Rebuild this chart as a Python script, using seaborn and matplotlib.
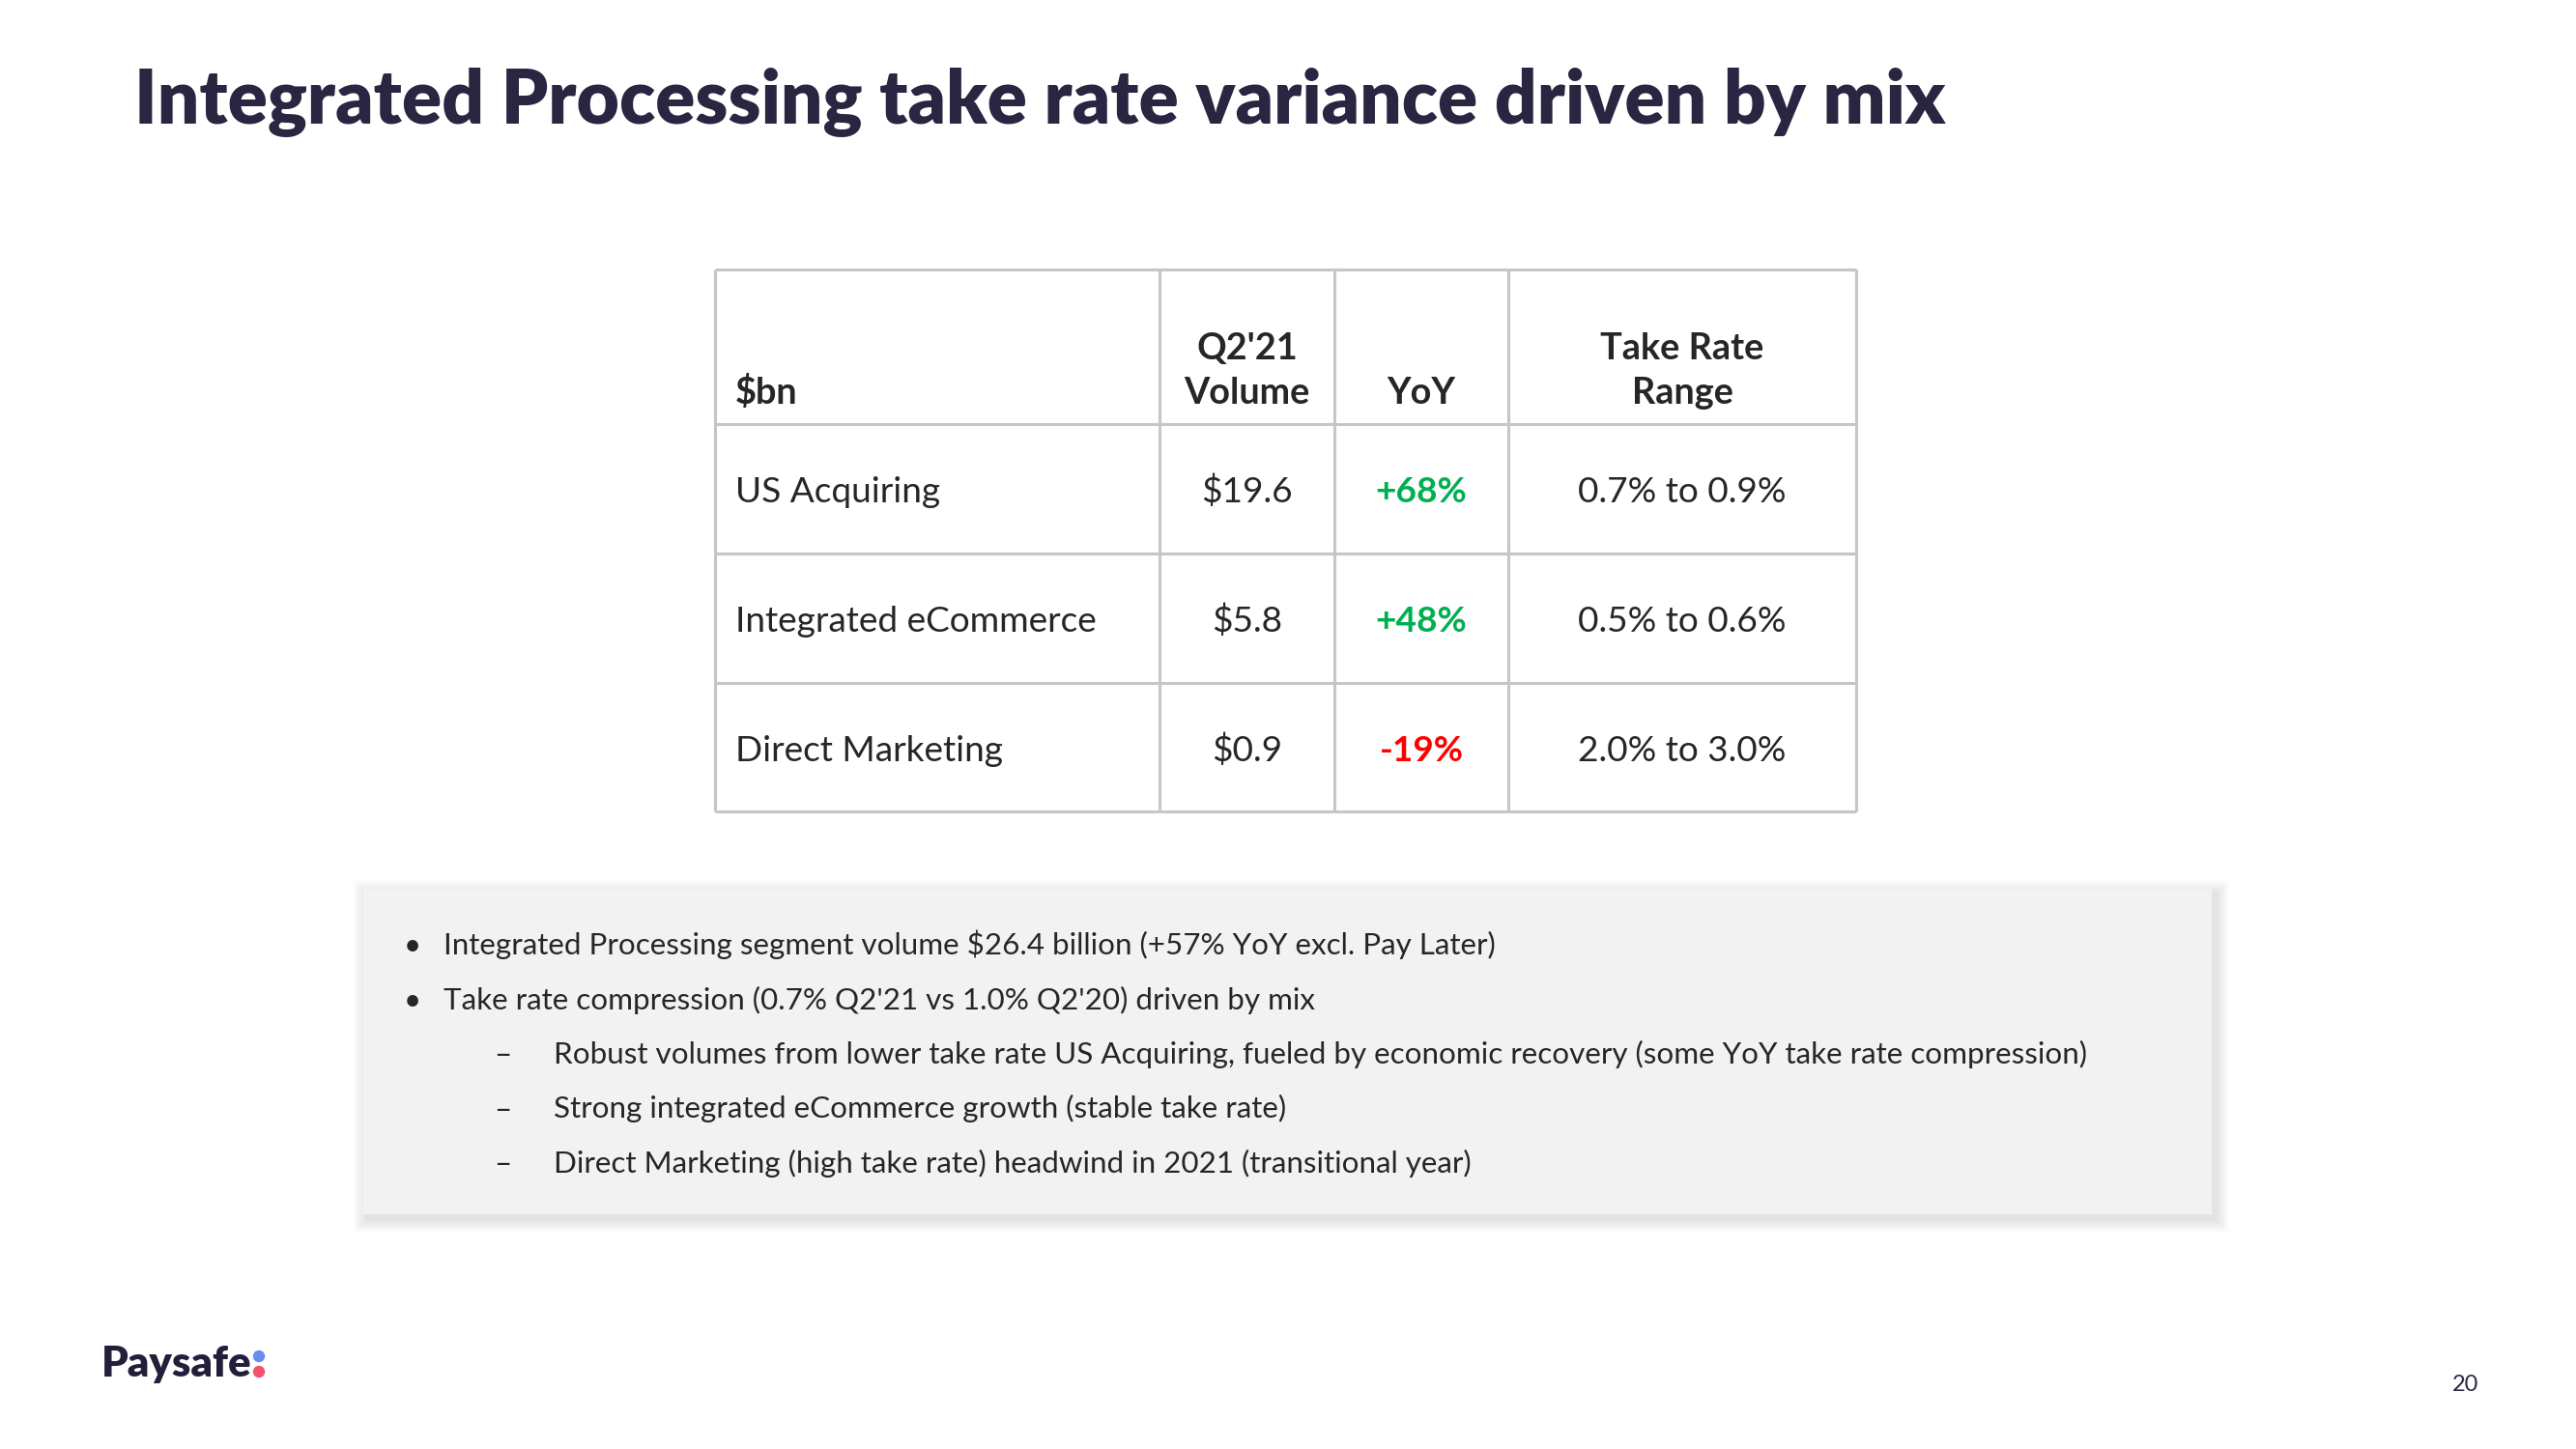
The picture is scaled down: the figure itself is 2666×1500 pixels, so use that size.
import matplotlib
matplotlib.use('Agg')
import matplotlib.pyplot as plt
from matplotlib.patches import Rectangle, Circle
import seaborn as sns

# ─── Slide content ────────────────────────────────────────────────────────────

title = 'Integrated Processing take rate variance driven by mix'

header_top = ['', "Q2'21", '', 'Take Rate']
header_bottom = ['$bn', 'Volume', 'YoY', 'Range']

segments = ['US Acquiring', 'Integrated eCommerce', 'Direct Marketing']
volumes = [19.6, 5.8, 0.9]
yoy_pct = [68, 48, -19]
take_rates = ['0.7% to 0.9%', '0.5% to 0.6%', '2.0% to 3.0%']

bullet_levels = [0, 0, 1, 1, 1]
bullet_texts = [
    'Integrated Processing segment volume $26.4 billion (+57% YoY excl. Pay Later)',
    "Take rate compression (0.7% Q2'21 vs 1.0% Q2'20) driven by mix",
    'Robust volumes from lower take rate US Acquiring, fueled by economic recovery '
    '(some YoY take rate compression)',
    'Strong integrated eCommerce growth (stable take rate)',
    'Direct Marketing (high take rate) headwind in 2021 (transitional year)',
]

page_number = '20'

# ─── Style ────────────────────────────────────────────────────────────────────

NAVY = '#2a2541'
TEXT = '#262626'
GRID = '#c6c6c6'
GREEN = '#00b050'
RED = '#ff0000'
BOX = '#f2f2f2'

sns.set_theme(style='white')
plt.rcParams['font.family'] = ['Lato', 'DejaVu Sans']

fig = plt.figure(figsize=(26.66, 15), dpi=100)
ax = fig.add_axes([0, 0, 1, 1])
ax.set_xlim(0, 2666)
ax.set_ylim(1500, 0)
ax.axis('off')
renderer = fig.canvas.get_renderer()


def fit_size(s, width, weight='normal', base=30):
    """font size (pt) that makes string s span `width` pixels"""
    t = ax.text(0, 0, s, fontsize=base, fontweight=weight)
    w = t.get_window_extent(renderer).width
    t.remove()
    return base * width / w


# ─── Title ────────────────────────────────────────────────────────────────────

fs_title = fit_size(title, 1872, 'heavy')
ax.text(139, 128, title, fontsize=fs_title, fontweight='heavy', color=NAVY,
        va='baseline', ha='left')

# ─── Table ────────────────────────────────────────────────────────────────────

col_x = [740, 1200, 1381, 1561, 1921]
row_y = [279, 439, 573, 707, 840]

ax.hlines(row_y, col_x[0], col_x[-1], color=GRID, lw=2.2, zorder=2)
ax.vlines(col_x, row_y[0], row_y[-1], color=GRID, lw=2.2, zorder=2)

fs_head = fit_size('Take Rate', 169, 'bold')
fs_body = fit_size('Integrated eCommerce', 374)
pad = 21

for j in range(4):
    cx = (col_x[j] + col_x[j + 1]) / 2
    x, ha = (col_x[0] + pad, 'left') if j == 0 else (cx, 'center')
    if header_top[j]:
        ax.text(x, 372, header_top[j], fontsize=fs_head, fontweight='bold',
                color=TEXT, ha=ha, va='baseline')
    ax.text(x, 418, header_bottom[j], fontsize=fs_head, fontweight='bold',
            color=TEXT, ha=ha, va='baseline')

centers = [(col_x[j] + col_x[j + 1]) / 2 for j in range(4)]
for i, seg in enumerate(segments):
    yb = (row_y[i + 1] + row_y[i + 2]) / 2 + 14
    ax.text(col_x[0] + pad, yb, seg, fontsize=fs_body, color=TEXT,
            ha='left', va='baseline')
    ax.text(centers[1], yb, f'${volumes[i]:.1f}', fontsize=fs_body,
            color=TEXT, ha='center', va='baseline')
    v = yoy_pct[i]
    ax.text(centers[2], yb, f'{v:+d}%', fontsize=fs_body, fontweight='bold',
            color=GREEN if v > 0 else RED, ha='center', va='baseline')
    ax.text(centers[3], yb, take_rates[i], fontsize=fs_body, color=TEXT,
            ha='center', va='baseline')

# ─── Commentary box ───────────────────────────────────────────────────────────

bx0, by0, bx1, by1 = 376, 920, 2289, 1257
# soft drop shadow, heavier to the lower right
for k in range(14, 0, -1):
    ax.add_patch(Rectangle((bx0 - k + 4, by0 - k + 5), bx1 - bx0 + 2 * k,
                           by1 - by0 + 2 * k, facecolor='black',
                           edgecolor='none', alpha=0.008, zorder=1))
ax.add_patch(Rectangle((bx0, by0), bx1 - bx0, by1 - by0, facecolor=BOX,
                       edgecolor='none', zorder=2))

fs_bul = fit_size(bullet_texts[2], 1588)
for i, (lvl, txt) in enumerate(zip(bullet_levels, bullet_texts)):
    yb = 988 + i * 56.5
    if lvl == 0:
        ax.text(427, yb, '•', fontsize=fs_bul, color=TEXT, ha='center',
                va='baseline', zorder=3)
        ax.text(459, yb, txt, fontsize=fs_bul, color=TEXT, va='baseline',
                zorder=3)
    else:
        ax.text(520, yb, '–', fontsize=fs_bul, color=TEXT, ha='center',
                va='baseline', zorder=3)
        ax.text(573, yb, txt, fontsize=fs_bul, color=TEXT, va='baseline',
                zorder=3)

# ─── Footer ───────────────────────────────────────────────────────────────────

fs_logo = fit_size('Paysafe', 155, 'heavy')
ax.text(105, 1425, 'Paysafe', fontsize=fs_logo, fontweight='heavy',
        color='#231f3a', va='baseline')
ax.add_patch(Circle((268, 1404), 5.5, color='#6b8cf0', zorder=3))
ax.add_patch(Circle((268, 1420), 5.5, color='#f2546f', zorder=3))

ax.text(2552, 1433, page_number, fontsize=17, color=NAVY, ha='center',
        va='center')

fig.savefig('out.png', dpi=100, facecolor='white')
